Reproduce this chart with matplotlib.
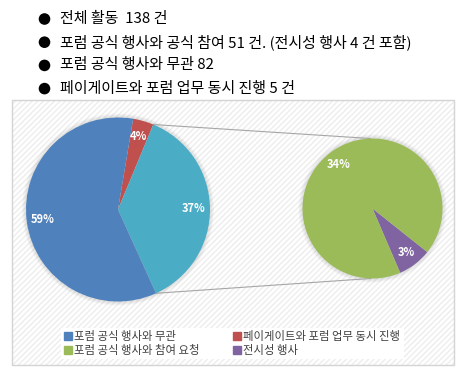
import numpy as np
import matplotlib
matplotlib.use("Agg")
import matplotlib.pyplot as plt
from matplotlib.patches import Rectangle, Circle, Patch

plt.rcParams['font.family'] = ['Noto Sans CJK KR', 'DejaVu Sans']

# ---------------------------------
# Data
# ---------------------------------
bullets = [
    "전체 활동  138 건",
    "포럼 공식 행사와 공식 참여 51 건. (전시성 행사 4 건 포함)",
    "포럼 공식 행사와 무관 82",
    "페이게이트와 포럼 업무 동시 진행 5 건",
]
main_labels = ["페이게이트와 포럼 업무 동시 진행", "포럼 공식 행사와 참여 요청", "포럼 공식 행사와 무관"]
main_values = [5, 51, 82]
sub_labels = ["전시성 행사", "포럼 공식 행사와 참여 요청"]
sub_values = [4, 47]
total = sum(main_values)

main_colors = ["#C0504D", "#4BACC6", "#4F81BD"]
sub_colors = ["#8064A2", "#9BBB59"]

W, H = 477, 379
fig = plt.figure(figsize=(W / 100, H / 100), dpi=100)
ax = fig.add_axes([0, 0, 1, 1])

def Y(py):
    return H - py

# header bullets
for i, line in enumerate(bullets):
    y = Y(19 + i * 23.2)
    ax.add_patch(Circle((44.5, y), 5.8, facecolor="black", edgecolor="none"))
    ax.text(60, y, line, fontsize=10.8, ha="left", va="center", color="black")

# chart area with diagonal hatch
ax.add_patch(Rectangle((12, Y(365)), 442, 265, facecolor="white", edgecolor="none", zorder=0))
ax.add_patch(Rectangle((12, Y(365)), 442, 265, fill=False, hatch="//////",
                       edgecolor="#ededed", linewidth=0, zorder=0.5))
ax.add_patch(Rectangle((12, Y(365)), 442, 265, fill=False, edgecolor="#d4d4d4",
                       linewidth=1, zorder=5))

c1, r1 = (118, Y(209.5)), 92
c2, r2 = (372.5, Y(208.5)), 70

# soft shadow round the pies
for c, r in [(c1, r1), (c2, r2)]:
    for k in range(1, 5):
        ax.add_patch(Circle(c, r + k, facecolor="#808080", alpha=0.06,
                            edgecolor="none", zorder=1))

start1 = 80.5
w1, t1, a1 = ax.pie(main_values, colors=main_colors, startangle=start1, counterclock=False,
                    center=c1, radius=r1, pctdistance=0.82,
                    autopct=lambda p: f"{p * sum(main_values) / total:.0f}%",
                    wedgeprops=dict(linewidth=0, zorder=2),
                    textprops=dict(color="white", fontsize=8, fontweight="bold"))

w2, t2, a2 = ax.pie(sub_values, colors=sub_colors, startangle=-38.5, counterclock=False,
                    center=c2, radius=r2, pctdistance=0.8,
                    autopct=lambda p: f"{p * sum(sub_values) / total:.0f}%",
                    wedgeprops=dict(linewidth=0, zorder=2),
                    textprops=dict(color="white", fontsize=8, fontweight="bold"))
for t in list(a1) + list(a2):
    t.set_zorder(3)

# connector lines from the split slice to the secondary pie
ang_top = np.radians(start1 - 360 * main_values[0] / total)
ang_bot = np.radians(start1 - 360 * (main_values[0] + main_values[1]) / total)
for ang, end in [(ang_top, (c2[0] - 2, c2[1] + r2)), (ang_bot, (c2[0] - 2, c2[1] - r2))]:
    p = (c1[0] + r1 * np.cos(ang), c1[1] + r1 * np.sin(ang))
    ax.plot([p[0], end[0]], [p[1], end[1]], color="#a6a6a6", linewidth=0.8, zorder=1.5)

# legend
handles = [Patch(color=main_colors[2], label=main_labels[2]),
           Patch(color=sub_colors[1], label=sub_labels[1]),
           Patch(color=main_colors[0], label=main_labels[0]),
           Patch(color=sub_colors[0], label=sub_labels[0])]
leg = ax.legend(handles=handles, ncol=2, loc="upper left",
                bbox_to_anchor=(55, Y(322)), bbox_transform=ax.transData,
                fontsize=8.2, frameon=True, fancybox=False, framealpha=1,
                edgecolor="none", facecolor="white",
                handlelength=0.65, handleheight=0.65, handletextpad=0.2,
                columnspacing=3.0, labelspacing=0.25, borderpad=0.3,
                labelcolor="#404040")

ax.set_xlim(0, W)
ax.set_ylim(0, H)
ax.set_aspect("equal")
ax.axis("off")

fig.savefig("out.png", dpi=100)
